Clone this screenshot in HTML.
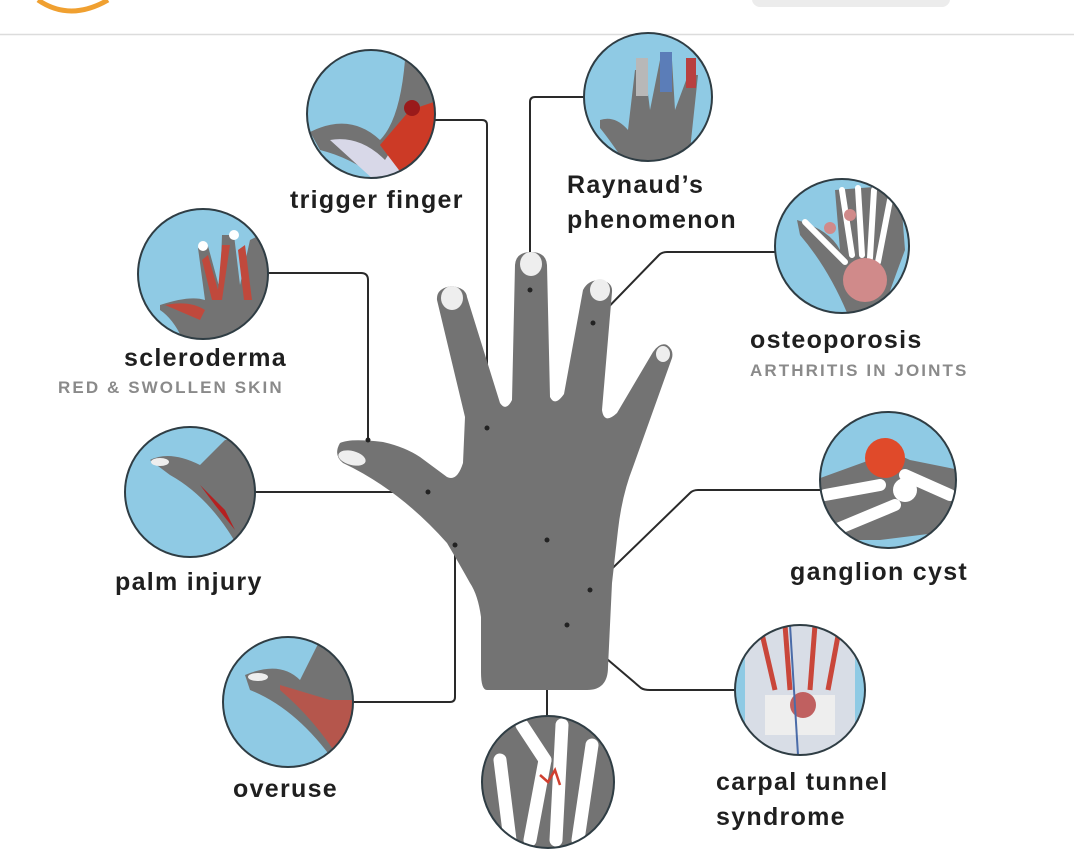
<!DOCTYPE html>
<html><head><meta charset="utf-8"><style>
html,body{margin:0;padding:0;background:#fff;}
svg{display:block;}
text{font-family:"Liberation Sans",sans-serif;}
.t{font-size:25px;font-weight:bold;fill:#1f1f1f;letter-spacing:1.3px;}
.s{font-size:17px;font-weight:bold;fill:#8a8a8a;letter-spacing:2.1px;}
.c{fill:#8fcae4;}
.o{fill:none;stroke:#2f3d44;stroke-width:2;}
.ln{fill:none;stroke:#2a2a2a;stroke-width:2;stroke-linejoin:round;}
.g{fill:#737373;}
</style></head><body>
<svg width="1074" height="859" viewBox="0 0 1074 859" xmlns="http://www.w3.org/2000/svg">
<defs>
<clipPath id="c1"><circle cx="371" cy="114" r="64"/></clipPath>
<clipPath id="c2"><circle cx="648" cy="97" r="64"/></clipPath>
<clipPath id="c3"><circle cx="842" cy="246" r="67"/></clipPath>
<clipPath id="c4"><circle cx="203" cy="274" r="65"/></clipPath>
<clipPath id="c5"><circle cx="190" cy="492" r="65"/></clipPath>
<clipPath id="c6"><circle cx="888" cy="480" r="68"/></clipPath>
<clipPath id="c7"><circle cx="288" cy="702" r="65"/></clipPath>
<clipPath id="c8"><circle cx="548" cy="782" r="66"/></clipPath>
<clipPath id="c9"><circle cx="800" cy="690" r="65"/></clipPath>
</defs>
<!-- header -->
<path d="M38,0 Q70,22 108,0" fill="none" stroke="#f0a030" stroke-width="5"/>
<rect x="752" y="-10" width="198" height="17" rx="8" fill="#ececec"/>
<line x1="0" y1="34.5" x2="1074" y2="34.5" stroke="#dcdcdc" stroke-width="1.5"/>

<!-- connectors -->
<path class="ln" d="M435,120 H482 Q487,120 487,125 V428"/>
<path class="ln" d="M530,290 V102 Q530,97 535,97 H586"/>
<path class="ln" d="M593,323 L659,255 Q662,252 667,252 H776"/>
<path class="ln" d="M267,273 H361 Q368,273 368,280 V440"/>
<path class="ln" d="M254,492 H428"/>
<path class="ln" d="M352,702 H450 Q455,702 455,697 V545"/>
<path class="ln" d="M547,540 V720"/>
<path class="ln" d="M590,590 L690,493 Q693,490 698,490 H821"/>
<path class="ln" d="M567,625 L641,688 Q644,690 650,690 H736"/>

<!-- hand -->
<path class="g" d="M487,690 Q481,690 481,672 L481,617 Q478,595 470,583 Q460,565 447,543 Q400,490 343,463 Q333,455 340,443 Q350,438 383,442 Q405,447 420,457 L447,477 Q457,482 463,463 L465,417 L437,300 Q436,288 452,286 Q466,288 467,297 L500,403 Q506,412 512,400 L515,265 Q516,252 531,252 Q546,252 547,265 L550,397 Q555,407 564,394 L583,290 Q588,280 600,280 Q613,282 612,292 L602,410 Q604,425 617,413 L653,352 Q660,342 667,345 Q674,350 672,358 L633,467 Q622,495 618,530 L612,583 L608,667 Q608,690 587,690 Z"/>
<ellipse cx="452" cy="298" rx="11" ry="12" fill="#eee"/>
<ellipse cx="531" cy="264" rx="11" ry="12" fill="#eee"/>
<ellipse cx="600" cy="290" rx="10" ry="11" fill="#eee"/>
<ellipse cx="663" cy="354" rx="7" ry="8" fill="#eee"/>
<ellipse cx="352" cy="458" rx="14" ry="7" transform="rotate(15 352 458)" fill="#eee"/>
<!-- dots -->
<g fill="#222"><circle cx="487" cy="428" r="2.5"/><circle cx="530" cy="290" r="2.5"/><circle cx="593" cy="323" r="2.5"/><circle cx="368" cy="440" r="2.5"/><circle cx="428" cy="492" r="2.5"/><circle cx="455" cy="545" r="2.5"/><circle cx="547" cy="540" r="2.5"/><circle cx="590" cy="590" r="2.5"/><circle cx="567" cy="625" r="2.5"/></g>

<!-- circles -->
<circle class="c" cx="371" cy="114" r="64"/>
<g clip-path="url(#c1)"><path d="M310,132 Q350,112 380,140 Q400,120 405,60 L425,60 L440,120 L440,190 L390,190 Q360,160 320,150 Z" fill="#737373"/><path d="M330,140 Q360,135 385,160 L410,120 L440,110 L440,190 L385,190 Z" fill="#d8d8e8"/><path d="M380,145 L410,110 L440,100 L440,160 L405,178 Z" fill="#cc3a26"/><circle cx="412" cy="108" r="8" fill="#9a1a1a"/></g>
<circle class="o" cx="371" cy="114" r="64"/>

<circle class="c" cx="648" cy="97" r="64"/>
<g clip-path="url(#c2)"><path d="M600,120 Q615,115 628,130 L635,70 L645,70 L650,110 L660,60 L672,60 L675,110 L688,75 L698,75 L690,150 L680,170 L630,170 Q610,140 600,128 Z" fill="#737373"/><rect x="636" y="58" width="12" height="38" fill="#b8b8b8"/><rect x="660" y="52" width="12" height="40" fill="#5b7db8"/><rect x="686" y="58" width="10" height="30" fill="#b84040"/></g>
<circle class="o" cx="648" cy="97" r="64"/>

<circle class="c" cx="842" cy="246" r="67"/>
<g clip-path="url(#c3)"><path d="M797,220 Q830,230 840,250 L835,190 L900,185 L905,250 Q890,290 880,320 L850,320 Q830,270 800,235 Z" fill="#737373"/><g stroke="#fff" stroke-width="6" stroke-linecap="round"><line x1="842" y1="190" x2="852" y2="255"/><line x1="858" y1="188" x2="862" y2="255"/><line x1="874" y1="190" x2="870" y2="258"/><line x1="890" y1="200" x2="878" y2="262"/><line x1="805" y1="222" x2="845" y2="262"/></g><circle cx="865" cy="280" r="22" fill="#d08a8a"/><circle cx="830" cy="228" r="6" fill="#d08a8a"/><circle cx="850" cy="215" r="6" fill="#d08a8a"/></g>
<circle class="o" cx="842" cy="246" r="67"/>

<circle class="c" cx="203" cy="274" r="65"/>
<g clip-path="url(#c4)"><path d="M160,305 Q190,295 205,300 L198,248 L208,246 L220,290 L222,235 L234,235 L240,285 L250,240 L270,230 L270,345 L185,345 Q175,320 160,310 Z" fill="#737373"/><path d="M202,260 L212,300 L222,300 L230,245 L222,245 L218,290 L208,255 Z M238,250 L244,300 L252,300 L245,245 Z M165,305 Q190,300 205,310 L200,320 Z" fill="#c0493c"/><circle cx="203" cy="246" r="5" fill="#fff"/><circle cx="234" cy="235" r="5" fill="#fff"/></g>
<circle class="o" cx="203" cy="274" r="65"/>

<circle class="c" cx="190" cy="492" r="65"/>
<g clip-path="url(#c5)"><path d="M150,460 Q170,450 200,465 L225,440 L260,440 L260,560 L245,560 Q215,500 170,475 Z" fill="#737373"/><path d="M200,485 L225,510 L235,530 L215,505 Z" fill="#b52020"/><ellipse cx="160" cy="462" rx="9" ry="4" fill="#eee"/></g>
<circle class="o" cx="190" cy="492" r="65"/>

<circle class="c" cx="888" cy="480" r="68"/>
<g clip-path="url(#c6)"><path d="M815,480 L870,460 Q890,450 910,460 L960,470 L960,530 L880,540 L815,540 Z" fill="#737373"/><circle cx="885" cy="458" r="20" fill="#e04a2a"/><g stroke="#fff" stroke-width="12" stroke-linecap="round"><line x1="825" y1="495" x2="880" y2="485"/><line x1="835" y1="530" x2="895" y2="505"/><line x1="905" y1="475" x2="950" y2="495"/></g><circle cx="905" cy="490" r="12" fill="#fff"/></g>
<circle class="o" cx="888" cy="480" r="68"/>

<circle class="c" cx="288" cy="702" r="65"/>
<g clip-path="url(#c7)"><path d="M245,675 Q280,660 300,680 L320,640 L360,640 L360,770 L340,770 Q300,710 250,690 Z" fill="#737373"/><path d="M280,685 L330,700 L355,700 L355,760 L340,760 Q315,720 280,690 Z" fill="#b5564c"/><ellipse cx="258" cy="677" rx="10" ry="4" fill="#eee"/></g>
<circle class="o" cx="288" cy="702" r="65"/>

<circle class="c" cx="548" cy="782" r="66"/>
<g clip-path="url(#c8)"><rect x="480" y="715" width="140" height="135" fill="#737373"/><g stroke="#fff" stroke-width="13" stroke-linecap="round"><line x1="522" y1="725" x2="545" y2="760"/><line x1="545" y1="760" x2="530" y2="840"/><line x1="562" y1="725" x2="556" y2="840"/><line x1="592" y1="745" x2="578" y2="840"/><line x1="500" y1="760" x2="510" y2="840"/></g><path d="M540,775 L548,782 L555,770 L560,785" stroke="#d04030" stroke-width="2.5" fill="none"/></g>
<circle class="o" cx="548" cy="782" r="66"/>

<circle class="c" cx="800" cy="690" r="65"/>
<g clip-path="url(#c9)"><rect x="745" y="625" width="110" height="130" fill="#d8dde6"/><g stroke="#c9463a" stroke-width="5"><line x1="760" y1="625" x2="775" y2="690"/><line x1="785" y1="625" x2="790" y2="690"/><line x1="815" y1="625" x2="810" y2="690"/><line x1="840" y1="625" x2="828" y2="690"/></g><rect x="765" y="695" width="70" height="40" fill="#eee"/><circle cx="803" cy="705" r="13" fill="#c06060"/><line x1="790" y1="625" x2="798" y2="755" stroke="#4a6ba8" stroke-width="2"/></g>
<circle class="o" cx="800" cy="690" r="65"/>

<!-- labels -->
<text class="t" x="290" y="208">trigger finger</text>
<text class="t" x="567" y="193">Raynaud’s</text>
<text class="t" x="567" y="228">phenomenon</text>
<text class="t" x="124" y="366">scleroderma</text>
<text class="s" x="58" y="393">RED &amp; SWOLLEN SKIN</text>
<text class="t" x="750" y="348">osteoporosis</text>
<text class="s" x="750" y="376">ARTHRITIS IN JOINTS</text>
<text class="t" x="115" y="590">palm injury</text>
<text class="t" x="790" y="580">ganglion cyst</text>
<text class="t" x="233" y="797">overuse</text>
<text class="t" x="716" y="790">carpal tunnel</text>
<text class="t" x="716" y="825">syndrome</text>
</svg>
</body></html>
